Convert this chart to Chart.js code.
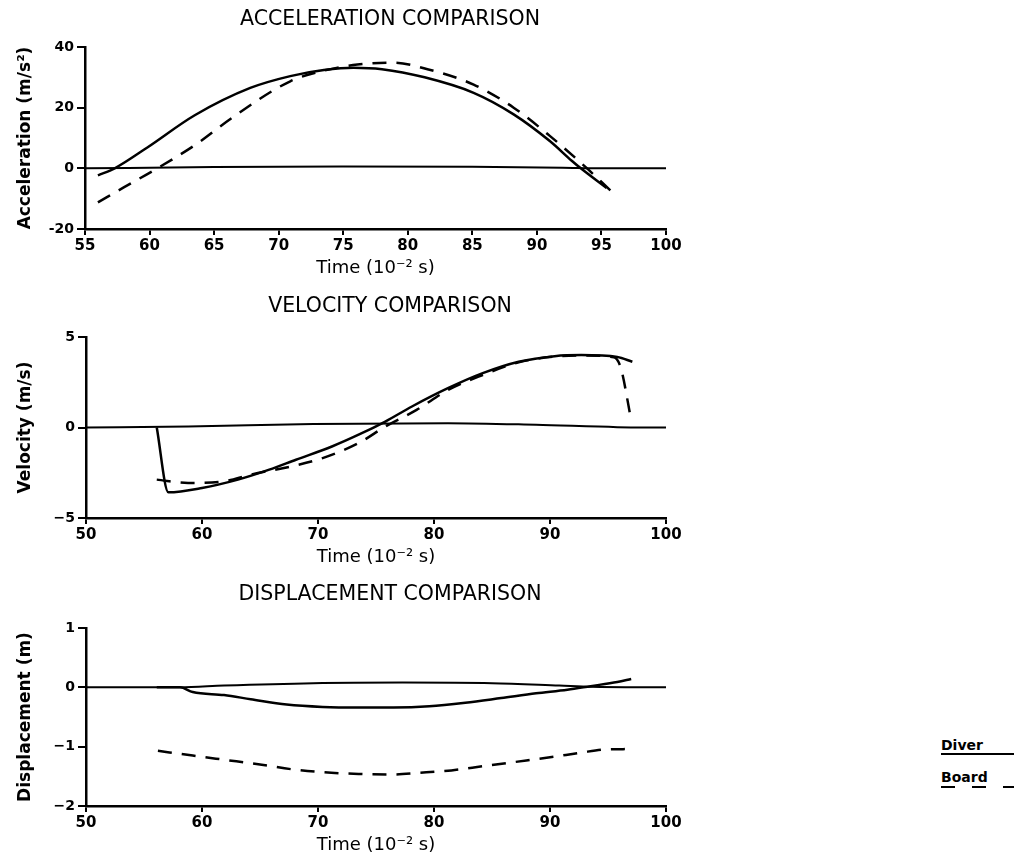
<!DOCTYPE html>
<html>
<head>
<meta charset="utf-8">
<script src="https://cdn.jsdelivr.net/npm/chart.js@4"></script>
<style>
  html, body { margin: 0; padding: 0; background: #fff; }
  body { width: 1014px; height: 857px; position: relative; overflow: hidden; }
  canvas { position: absolute; left: 0; }
  .key { position: absolute; left: 941px; font: bold 14px "DejaVu Sans", sans-serif; color: #000; }
  .rule { position: absolute; left: 941px; width: 73px; height: 2px; }
  .solid { background: #000; }
  .dash { background: repeating-linear-gradient(to right, #000 0 14px, transparent 14px 31px); }
</style>
</head>
<body>
<canvas id="acc" width="700" height="279" style="top:0px"></canvas>
<canvas id="vel" width="700" height="281" style="top:287px"></canvas>
<canvas id="disp" width="700" height="281" style="top:575px"></canvas>

<div class="key" style="top:737px">Diver</div>
<div class="rule solid" style="top:753px"></div>
<div class="key" style="top:769px">Board</div>
<div class="rule dash" style="top:786px"></div>

<script>
// Acceleration (m/s^2) vs time (10^-2 s)
const accDiverT = [56.0, 57.3, 59.8, 63.5, 67.8, 70.9, 73.5, 75.8, 78.0, 81.3, 85.1, 88.2, 91.0, 92.7, 93.4, 95.4];
const accDiverV = [-2.3, 0, 6.8, 17.5, 26.5, 30.4, 32.4, 33.2, 32.7, 30.0, 24.9, 17.8, 9.0, 2.5, 0, -6.5];
const accBoardT = [56.0, 58.0, 60.6, 63.7, 66.4, 70.9, 73.3, 76.1, 78.9, 81.6, 85.1, 88.2, 91.0, 93.8, 95.7];
const accBoardV = [-11.2, -6.3, 0, 8.2, 16.7, 28.7, 32.0, 34.2, 34.8, 32.6, 27.6, 20.0, 10.7, 0.3, -7.3];
const accZeroT = [55, 65, 75, 85, 92, 95, 100];
const accZeroV = [0, 0.4, 0.6, 0.5, 0.2, 0, 0];
const accXTicks = [55, 60, 65, 70, 75, 80, 85, 90, 95, 100];
const accYTicks = [-20, 0, 20, 40];
const accYLabels = ['-20', '0', '20', '40'];

// Velocity (m/s)
const velDiverT = [56.1, 57.1, 60.0, 63.1, 65.8, 68.1, 71.2, 73.5, 75.8, 78.1, 81.2, 84.2, 87.3, 90.4, 92.7, 95.8, 97.1];
const velDiverV = [0, -3.58, -3.34, -2.88, -2.33, -1.78, -1.05, -0.4, 0.33, 1.16, 2.17, 3.0, 3.63, 3.94, 4.0, 3.9, 3.63];
const velBoardT = [56.1, 58.8, 61.9, 64.2, 67.7, 70.4, 73.5, 75.8, 78.5, 81.2, 84.2, 87.3, 90.4, 92.7, 95.5, 96.1, 97.0];
const velBoardV = [-2.88, -3.06, -2.97, -2.6, -2.15, -1.69, -0.86, 0.05, 0.97, 2.07, 2.9, 3.6, 3.92, 3.98, 3.88, 3.3, 0.4];
const velZeroT = [50, 58.8, 69.6, 81.2, 88.8, 95.8, 100];
const velZeroV = [0, 0.05, 0.2, 0.24, 0.15, 0.02, 0];
const velXTicks = [50, 60, 70, 80, 90, 100];
const velYTicks = [-5, 0, 5];
const velYLabels = ['\u22125', '0', '5'];

// Displacement (m)
const dispDiverT = [56.1, 58.1, 59.2, 61.9, 64.2, 67.3, 70.4, 73.5, 76.5, 79.6, 82.7, 85.8, 88.8, 91.5, 93.5, 95.8, 97.0];
const dispDiverV = [0, 0, -0.08, -0.13, -0.2, -0.29, -0.33, -0.34, -0.34, -0.32, -0.26, -0.18, -0.1, -0.04, 0.02, 0.09, 0.14];
const dispBoardT = [56.2, 59.2, 61.9, 65.0, 67.7, 70.4, 73.5, 76.2, 78.8, 81.5, 84.2, 86.9, 90.0, 92.7, 94.6, 97.0];
const dispBoardV = [-1.07, -1.15, -1.22, -1.3, -1.38, -1.43, -1.46, -1.47, -1.44, -1.4, -1.33, -1.26, -1.18, -1.1, -1.05, -1.04];
const dispZeroT = [50, 58.1, 61.9, 69.6, 77.3, 85.0, 90.8, 93.5, 100];
const dispZeroV = [0, 0, 0.03, 0.07, 0.08, 0.07, 0.03, 0.01, 0];
const dispXTicks = [50, 60, 70, 80, 90, 100];
const dispYTicks = [-2, -1, 0, 1];
const dispYLabels = ['\u22122', '\u22121', '0', '1'];

const FONT = '"DejaVu Sans", sans-serif';
const pts = (t, v) => t.map((x, i) => ({ x: x, y: v[i] }));

// draws the chart heading centred over the page column
const headline = {
  id: 'headline',
  afterDraw(chart, args, opts) {
    const ctx = chart.ctx;
    ctx.save();
    ctx.font = '20.5px ' + FONT;
    ctx.fillStyle = '#000';
    ctx.textAlign = 'center';
    ctx.textBaseline = 'middle';
    ctx.fillText(opts.text, opts.x, opts.y);
    ctx.restore();
  }
};

function buildChart(id, c) {
  const ctx = document.getElementById(id).getContext('2d');
  return new Chart(ctx, {
    type: 'line',
    data: {
      datasets: [
        { label: 'zero', data: c.zero, borderColor: '#000', borderWidth: 2, cubicInterpolationMode: 'monotone' },
        { label: 'Diver', data: c.diver, borderColor: '#000', borderWidth: 2.5, cubicInterpolationMode: 'monotone' },
        { label: 'Board', data: c.board, borderColor: '#000', borderWidth: 2.5, borderDash: [14, 10], cubicInterpolationMode: 'monotone' }
      ]
    },
    options: {
      responsive: false,
      animation: false,
      events: [],
      layout: { padding: { top: c.top, right: 34, left: 0, bottom: 0 } },
      elements: { point: { radius: 0 } },
      plugins: {
        legend: { display: false },
        tooltip: { enabled: false },
        headline: { text: c.title, x: 390, y: 20 }
      },
      scales: {
        x: {
          type: 'linear',
          min: c.xTicks[0],
          max: c.xTicks[c.xTicks.length - 1],
          afterBuildTicks: (s) => { s.ticks = c.xTicks.map(v => ({ value: v })); },
          afterFit: (s) => { s.height = 50; },
          border: { display: true, color: '#000', width: 2.5 },
          grid: { drawOnChartArea: false, drawTicks: true, tickLength: 6, color: '#000', lineWidth: 2 },
          ticks: {
            autoSkip: false, maxRotation: 0, padding: 2, color: '#000',
            font: { family: FONT, size: 15, weight: 'bold' }
          },
          title: {
            display: true, text: 'Time (10\u207B\u00B2 s)', color: '#000',
            padding: { top: 0, bottom: 0 },
            font: { family: FONT, size: 18 }
          }
        },
        y: {
          min: c.yTicks[0],
          max: c.yTicks[c.yTicks.length - 1],
          afterBuildTicks: (s) => { s.ticks = c.yTicks.map(v => ({ value: v })); },
          afterFit: (s) => { s.width = c.left; },
          border: { display: true, color: '#000', width: 2.5 },
          grid: { drawOnChartArea: false, drawTicks: true, tickLength: 8, color: '#000', lineWidth: 2 },
          ticks: {
            autoSkip: false, padding: 3, color: '#000',
            font: { family: FONT, size: 14, weight: 'bold' },
            callback: (value) => c.yLabels[c.yTicks.indexOf(value)]
          },
          title: {
            display: true, text: c.yTitle, color: '#000',
            padding: { top: 15, bottom: 0 },
            font: { family: FONT, size: 17, weight: 'bold' }
          }
        }
      }
    },
    plugins: [headline]
  });
}

buildChart('acc', {
  title: 'ACCELERATION COMPARISON', yTitle: 'Acceleration (m/s\u00B2)', top: 47, left: 85,
  zero: pts(accZeroT, accZeroV), diver: pts(accDiverT, accDiverV), board: pts(accBoardT, accBoardV),
  xTicks: accXTicks, yTicks: accYTicks, yLabels: accYLabels
});

buildChart('vel', {
  title: 'VELOCITY COMPARISON', yTitle: 'Velocity (m/s)', top: 50, left: 86,
  zero: pts(velZeroT, velZeroV), diver: pts(velDiverT, velDiverV), board: pts(velBoardT, velBoardV),
  xTicks: velXTicks, yTicks: velYTicks, yLabels: velYLabels
});

buildChart('disp', {
  title: 'DISPLACEMENT COMPARISON', yTitle: 'Displacement (m)', top: 53, left: 86,
  zero: pts(dispZeroT, dispZeroV), diver: pts(dispDiverT, dispDiverV), board: pts(dispBoardT, dispBoardV),
  xTicks: dispXTicks, yTicks: dispYTicks, yLabels: dispYLabels
});
</script>
</body>
</html>
